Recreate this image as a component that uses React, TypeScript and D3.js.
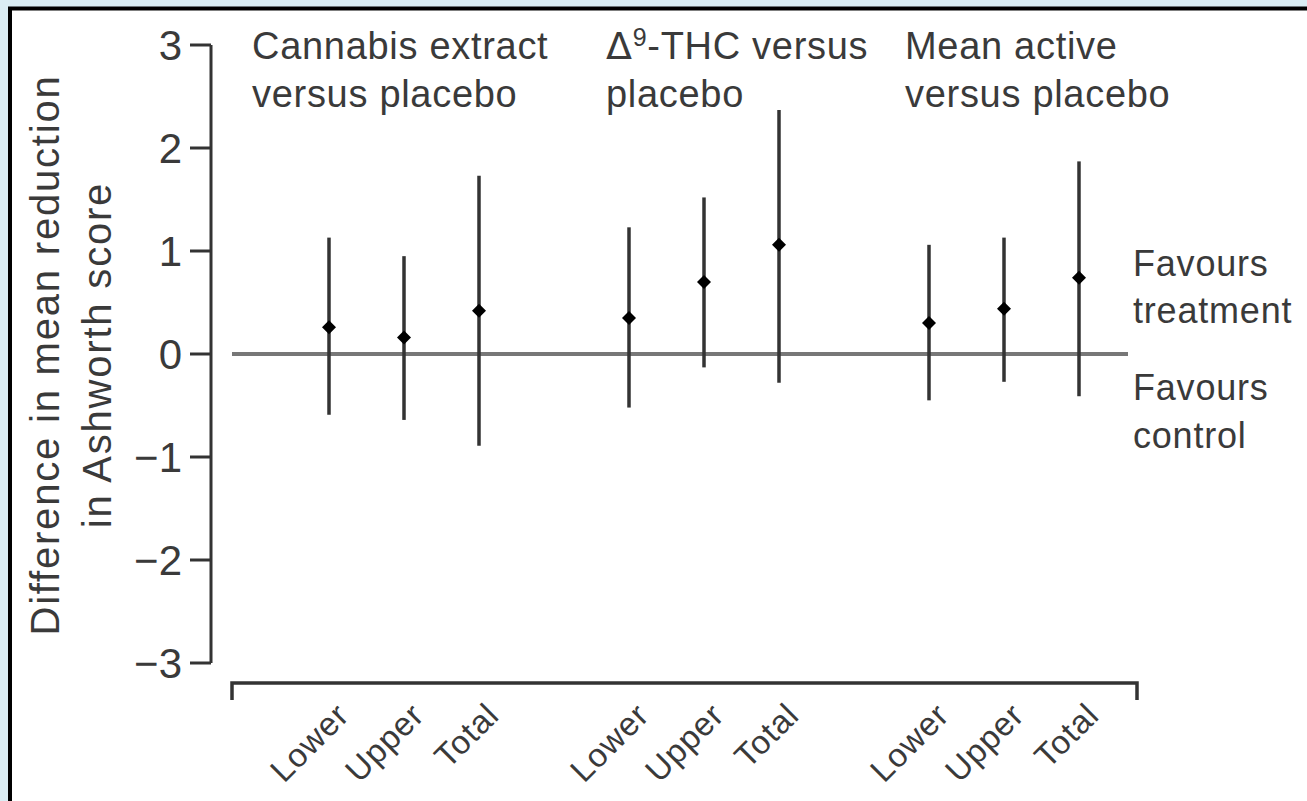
import React from "react";
import * as d3 from "d3";

const groups = ["Cannabis extract versus placebo", "Δ9-THC versus placebo", "Mean active versus placebo"];
const subgroups = ["Lower", "Upper", "Total"];
// per group: [lower, upper, total]
const means = [
  [0.26, 0.16, 0.42],
  [0.35, 0.7, 1.06],
  [0.3, 0.44, 0.74],
];
const ciLow = [
  [-0.59, -0.64, -0.89],
  [-0.52, -0.13, -0.28],
  [-0.45, -0.27, -0.41],
];
const ciHigh = [
  [1.13, 0.95, 1.73],
  [1.23, 1.52, 2.37],
  [1.06, 1.13, 1.87],
];
const yTicks = [-3, -2, -1, 0, 1, 2, 3];

const W = 1307;
const H = 801;
const FONT = "'Liberation Sans', Arial, sans-serif";
const TXT = "#3a3a3a";

export default function App() {
  const y = d3.scaleLinear().domain([-3, 3]).range([663, 45]);
  const x = d3.scaleLinear().domain([0, 10]).range([329, 1079]);
  const axisX = 211;

  const points: { g: number; s: number; pos: number; m: number; lo: number; hi: number }[] = [];
  groups.forEach((_, g) =>
    subgroups.forEach((_, s) =>
      points.push({ g, s, pos: g * 4 + s, m: means[g][s], lo: ciLow[g][s], hi: ciHigh[g][s] })
    )
  );

  const titleX = [252, 606, 905];
  const tFont = 38;
  const tLS = 0.7;

  return (
    <svg width={W} height={H} style={{ position: "absolute", left: 0, top: 0 }} fontFamily={FONT}>
      <rect x={0} y={0} width={W} height={H} fill="#daedf4" />
      <rect x={10} y={8.5} width={W + 20} height={H + 20} fill="#fff" stroke="#000" strokeWidth={4} />

      {/* Y axis */}
      <line x1={axisX} x2={axisX} y1={y(3)} y2={y(-3)} stroke="#333" strokeWidth={3} />
      {yTicks.map((t) => (
        <g key={t}>
          <line x1={axisX - 21} x2={axisX} y1={y(t)} y2={y(t)} stroke="#333" strokeWidth={3} />
          <text x={axisX - 29} y={y(t)} dy="0.36em" textAnchor="end" fontSize={42} fill={TXT}>
            {t < 0 ? "\u2212" + Math.abs(t) : String(t)}
          </text>
        </g>
      ))}

      {/* Y label */}
      <g transform={`translate(59,355) rotate(-90)`}>
        <text textAnchor="middle" fontSize={40} letterSpacing={1.8} fill={TXT}>Difference in mean reduction</text>
        <text y={52} textAnchor="middle" fontSize={40} letterSpacing={1.8} fill={TXT}>in Ashworth score</text>
      </g>

      {/* zero line */}
      <line x1={232} x2={1128} y1={y(0)} y2={y(0)} stroke="#777" strokeWidth={4} />

      {/* error bars */}
      {points.map((p, i) => (
        <g key={i}>
          <line x1={x(p.pos)} x2={x(p.pos)} y1={y(p.lo)} y2={y(p.hi)} stroke="#333" strokeWidth={3.5} />
          <path
            d={`M${x(p.pos)},${y(p.m) - 7}L${x(p.pos) + 7},${y(p.m)}L${x(p.pos)},${y(p.m) + 7}L${x(p.pos) - 7},${y(p.m)}Z`}
            fill="#000"
          />
        </g>
      ))}

      {/* bottom bracket */}
      <path d={`M232,700V683H1137V700`} fill="none" stroke="#333" strokeWidth={3.5} />

      {/* x tick labels */}
      {points.map((p, i) => (
        <text
          key={i}
          transform={`translate(${x(p.pos) + 22},${717}) rotate(-45)`}
          textAnchor="end"
          fontSize={33}
          letterSpacing={1}
          fill={TXT}
        >
          {subgroups[p.s]}
        </text>
      ))}

      {/* titles */}
      <text x={titleX[0]} y={59} fontSize={tFont} letterSpacing={tLS} fill={TXT}>Cannabis extract</text>
      <text x={titleX[0]} y={107} fontSize={tFont} letterSpacing={tLS} fill={TXT}>versus placebo</text>
      <text x={titleX[1]} y={59} fontSize={tFont} letterSpacing={tLS} fill={TXT}>
        <tspan fontFamily="'DejaVu Sans', sans-serif">Δ</tspan>
        <tspan dy={-13} fontSize={25}>9</tspan>
        <tspan dy={13}>-THC versus</tspan>
      </text>
      <text x={titleX[1]} y={107} fontSize={tFont} letterSpacing={tLS} fill={TXT}>placebo</text>
      <text x={titleX[2]} y={59} fontSize={tFont} letterSpacing={tLS} fill={TXT}>Mean active</text>
      <text x={titleX[2]} y={107} fontSize={tFont} letterSpacing={tLS} fill={TXT}>versus placebo</text>

      {/* side annotations */}
      <text x={1133} y={276} fontSize={36} letterSpacing={0.8} fill={TXT}>Favours</text>
      <text x={1133} y={323} fontSize={36} letterSpacing={0.8} fill={TXT}>treatment</text>
      <text x={1133} y={400} fontSize={36} letterSpacing={0.8} fill={TXT}>Favours</text>
      <text x={1133} y={448} fontSize={36} letterSpacing={0.8} fill={TXT}>control</text>
    </svg>
  );
}
